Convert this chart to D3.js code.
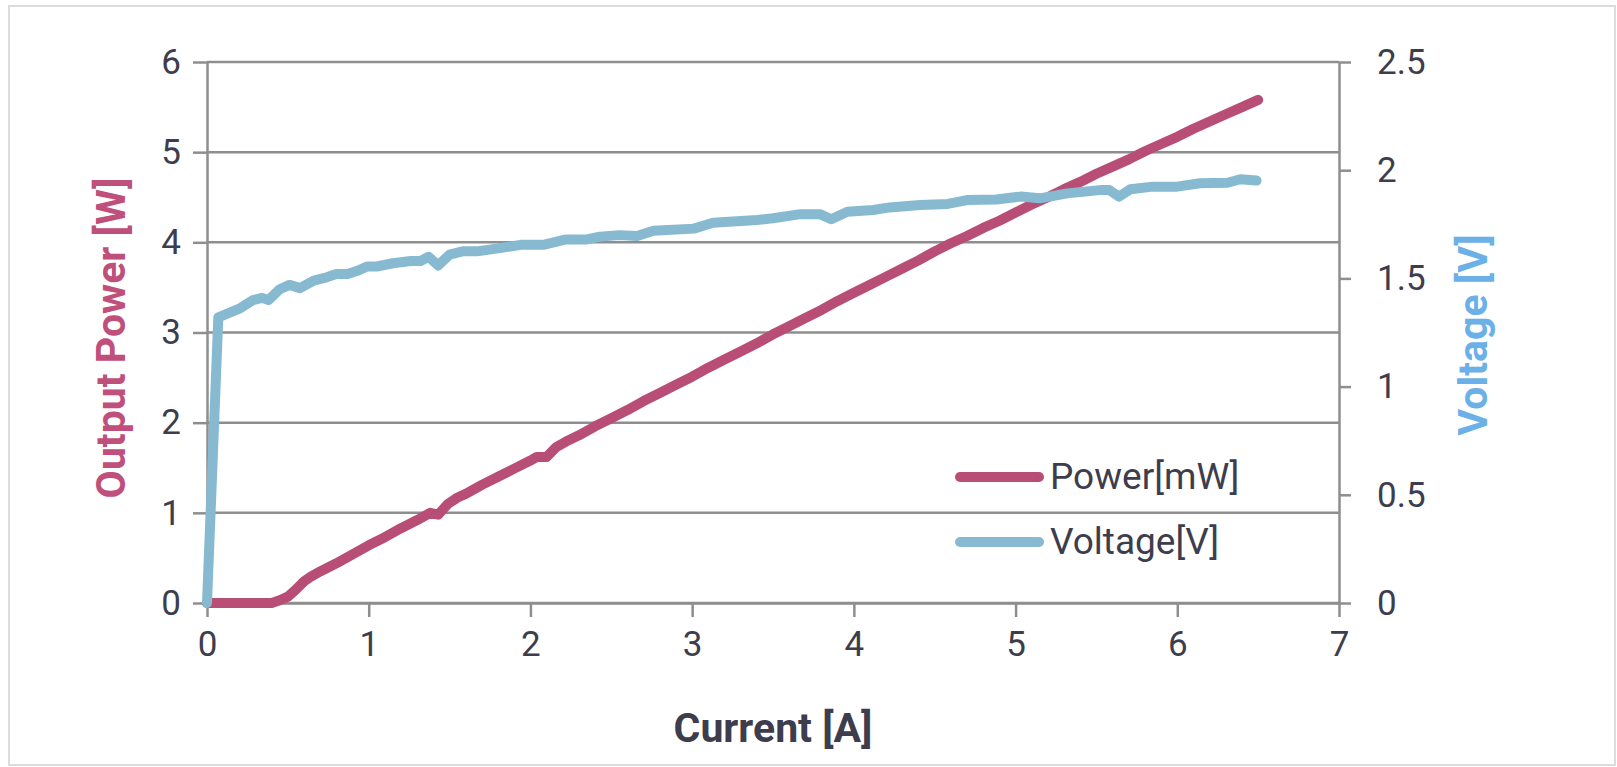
<!DOCTYPE html>
<html>
<head>
<meta charset="utf-8">
<script src="https://cdn.jsdelivr.net/npm/d3@7"></script>
<style>
    html, body { margin: 0; padding: 0; background: #ffffff; }
    svg { display: block; font-family: Roboto, "Open Sans", sans-serif; }
</style>
</head>
<body>
<svg width="1617" height="767"></svg>
<script>
// Ток для кривой мощности и значения мощности (Вт)
const powerCurrent = [0, 0.1, 0.2, 0.3, 0.4, 0.45, 0.5, 0.55, 0.6, 0.64, 0.7, 0.8, 0.9, 1.0, 1.1, 1.2, 1.3, 1.38, 1.43, 1.49, 1.55,
    1.6, 1.7, 1.8, 1.9, 2.0, 2.04, 2.1, 2.16, 2.22, 2.3, 2.4, 2.5, 2.6, 2.7, 2.8, 2.9, 3.0, 3.1, 3.2, 3.3, 3.4, 3.5,
    3.6, 3.7, 3.8, 3.9, 4.0, 4.1, 4.2, 4.3, 4.4, 4.5, 4.6, 4.7, 4.8, 4.9, 5.0, 5.1, 5.2, 5.3, 5.4, 5.5, 5.6, 5.7,
    5.8, 5.9, 6.0, 6.1, 6.2, 6.3, 6.4, 6.5];
const powerValues = [0, 0, 0, 0, 0, 0.03, 0.07, 0.15, 0.24, 0.29, 0.35, 0.44, 0.54, 0.64, 0.73, 0.83, 0.92, 1.0, 0.98, 1.1, 1.17,
    1.21, 1.31, 1.40, 1.49, 1.58, 1.62, 1.62, 1.73, 1.79, 1.86, 1.96, 2.05, 2.14, 2.24, 2.33, 2.42, 2.51, 2.61, 2.70, 2.79, 2.88, 2.98,
    3.07, 3.16, 3.25, 3.35, 3.44, 3.53, 3.62, 3.71, 3.80, 3.90, 3.99, 4.07, 4.16, 4.24, 4.33, 4.42, 4.50, 4.59, 4.67, 4.76, 4.84, 4.92,
    5.01, 5.09, 5.17, 5.26, 5.34, 5.42, 5.50, 5.58];

// Ток для кривой напряжения и значения напряжения (В)
const voltageCurrent = [0, 0.07, 0.20, 0.285, 0.34, 0.38, 0.45, 0.51, 0.575, 0.66, 0.74, 0.80, 0.87, 0.93, 0.99, 1.05, 1.15, 1.26,
    1.32, 1.37, 1.43, 1.50, 1.58, 1.67, 1.81, 1.94, 2.08, 2.22, 2.35, 2.43, 2.55, 2.66, 2.76, 3.01, 3.13, 3.40, 3.50, 3.67, 3.79,
    3.86, 3.96, 4.12, 4.22, 4.41, 4.58, 4.70, 4.88, 5.03, 5.15, 5.32, 5.52, 5.58, 5.64, 5.71, 5.85, 6.00, 6.14, 6.31, 6.39, 6.49];
const voltageValues = [0, 1.32, 1.36, 1.40, 1.41, 1.40, 1.45, 1.47, 1.455, 1.49, 1.505, 1.52, 1.52, 1.535, 1.555, 1.555, 1.57, 1.58,
    1.58, 1.60, 1.56, 1.61, 1.625, 1.625, 1.64, 1.655, 1.655, 1.68, 1.68, 1.693, 1.70, 1.696, 1.72, 1.73, 1.757, 1.77, 1.778, 1.797, 1.797,
    1.773, 1.808, 1.816, 1.828, 1.839, 1.844, 1.862, 1.865, 1.878, 1.870, 1.893, 1.908, 1.908, 1.878, 1.912, 1.924, 1.924, 1.94, 1.942, 1.958, 1.952];

const ticksX = [0, 1, 2, 3, 4, 5, 6, 7];
const ticksLeft = [0, 1, 2, 3, 4, 5, 6];
const ticksRight = [0, 0.5, 1, 1.5, 2, 2.5];

const legendItems = [
    { text: "Power[mW]", color: "#b84e75" },
    { text: "Voltage[V]", color: "#87bad0" }
];

const attrArea = {
    width: 1617,
    height: 767,
    left: 207,
    right: 1339,
    top: 62,
    bottom: 603
};

const textColor = "#3d3d4d";
const gridColor = "#8e8e8e";

function drawGraph() {
    const svg = d3.select("svg");
    svg.selectAll("*").remove();

    // рамка вокруг всей картинки
    svg.append("rect")
        .attr("x", 9).attr("y", 6)
        .attr("width", 1606).attr("height", 759)
        .attr("fill", "none")
        .attr("stroke", "#dcdcdc")
        .attr("stroke-width", 2);

    const scaleX = d3.scaleLinear().domain([0, 7]).range([attrArea.left, attrArea.right]);
    const scaleLeft = d3.scaleLinear().domain([0, 6]).range([attrArea.bottom, attrArea.top]);
    const scaleRight = d3.scaleLinear().domain([0, 2.5]).range([attrArea.bottom, attrArea.top]);

    // горизонтальная сетка
    svg.append("g")
        .selectAll("line")
        .data(ticksLeft)
        .enter()
        .append("line")
        .attr("x1", attrArea.left)
        .attr("x2", attrArea.right)
        .attr("y1", d => scaleLeft(d))
        .attr("y2", d => scaleLeft(d))
        .attr("stroke", gridColor)
        .attr("stroke-width", 2.5);

    createAxis(svg, scaleX, scaleLeft, scaleRight);

    createLine(svg, powerCurrent, powerValues, scaleX, scaleLeft, legendItems[0].color);
    createLine(svg, voltageCurrent, voltageValues, scaleX, scaleRight, legendItems[1].color);

    createLegend(svg);
}

function styleAxis(g) {
    g.selectAll(".domain").attr("stroke", gridColor).attr("stroke-width", 2.5);
    g.selectAll(".tick line").attr("stroke", gridColor).attr("stroke-width", 2.5);
    g.selectAll(".tick text")
        .attr("fill", textColor)
        .style("font-size", "35px")
        .style("font-family", "Roboto, sans-serif");
}

function createAxis(svg, scaleX, scaleLeft, scaleRight) {
    const plain = d3.format("");
    const axisX = d3.axisBottom(scaleX).tickValues(ticksX).tickFormat(plain).tickSizeInner(14).tickSizeOuter(0).tickPadding(14);
    const axisLeft = d3.axisLeft(scaleLeft).tickValues(ticksLeft).tickFormat(plain).tickSizeInner(14).tickSizeOuter(0).tickPadding(12);
    const axisRight = d3.axisRight(scaleRight).tickValues(ticksRight).tickFormat(plain).tickSizeInner(12).tickSizeOuter(0).tickPadding(26);

    svg.append("g")
        .attr("transform", `translate(0, ${attrArea.bottom})`)
        .call(axisX)
        .call(styleAxis);

    svg.append("g")
        .attr("transform", `translate(${attrArea.left}, 0)`)
        .call(axisLeft)
        .call(styleAxis);

    svg.append("g")
        .attr("transform", `translate(${attrArea.right}, 0)`)
        .call(axisRight)
        .call(styleAxis);

    // подписи осей
    svg.append("text")
        .attr("x", (attrArea.left + attrArea.right) / 2)
        .attr("y", 742)
        .attr("text-anchor", "middle")
        .attr("fill", textColor)
        .style("font-size", "41px")
        .style("font-weight", "bold")
        .text("Current [A]");

    svg.append("text")
        .attr("transform", "translate(125, 338) rotate(-90)")
        .attr("text-anchor", "middle")
        .attr("fill", "#bf4f7b")
        .style("font-size", "41px")
        .style("font-weight", "bold")
        .text("Output Power [W]");

    svg.append("text")
        .attr("transform", "translate(1487, 335) rotate(-90)")
        .attr("text-anchor", "middle")
        .attr("fill", "#6cb0e8")
        .style("font-size", "41px")
        .style("font-weight", "bold")
        .text("Voltage [V]");
}

function createLine(svg, xs, ys, scaleX, scaleY, color) {
    const points = xs.map((x, i) => ({ x: x, y: ys[i] }));

    const line = d3.line()
        .x(d => scaleX(d.x))
        .y(d => scaleY(d.y));

    svg.append("path")
        .datum(points)
        .attr("fill", "none")
        .attr("stroke", color)
        .attr("stroke-width", 10)
        .attr("stroke-linecap", "round")
        .attr("stroke-linejoin", "round")
        .attr("d", line);
}

function createLegend(svg) {
    const legend = svg.append("g")
        .attr("class", "legend")
        .attr("transform", "translate(960, 477)");

    legend.selectAll("line")
        .data(legendItems)
        .enter()
        .append("line")
        .attr("x1", 0)
        .attr("x2", 79)
        .attr("y1", (d, i) => i * 65)
        .attr("y2", (d, i) => i * 65)
        .attr("stroke", d => d.color)
        .attr("stroke-width", 10)
        .attr("stroke-linecap", "round");

    legend.selectAll("text")
        .data(legendItems)
        .enter()
        .append("text")
        .attr("x", 90)
        .attr("y", (d, i) => i * 65 + 12)
        .attr("fill", textColor)
        .style("font-size", "37px")
        .text(d => d.text);
}

drawGraph();
</script>
</body>
</html>
